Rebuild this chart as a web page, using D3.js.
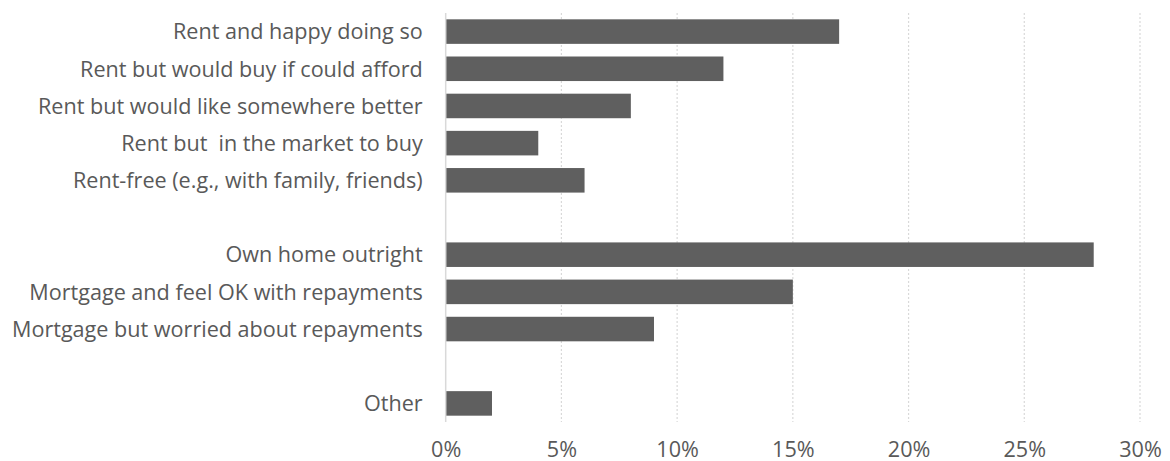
<!DOCTYPE html>
<html>
<head>
<meta charset="utf-8">
<script src="https://cdn.jsdelivr.net/npm/d3@7"></script>
<style>
  html, body { margin: 0; padding: 0; background: #ffffff; }
  svg { display: block; }
  text { font-family: "Open Sans", "Noto Sans", sans-serif; fill: #595959; white-space: pre; }
</style>
</head>
<body>
<svg id="chart" width="1170" height="461"></svg>
<script>
// Housing situation categories, top to bottom ("" marks a spacer row)
const categories = [
  "Rent and happy doing so",
  "Rent but would buy if could afford",
  "Rent but would like somewhere better",
  "Rent but  in the market to buy",
  "Rent-free (e.g., with family, friends)",
  "",
  "Own home outright",
  "Mortgage and feel OK with repayments",
  "Mortgage but worried about repayments",
  " ",
  "Other"
];
// Share of respondents (%) for each category; null for spacer rows
const shares = [17, 12, 8, 4, 6, null, 28, 15, 9, null, 2];
// Axis tick values (%)
const tickValues = [0, 5, 10, 15, 20, 25, 30];

const svg = d3.select("#chart");
const plotLeft = 445.7, plotRight = 1140, plotTop = 13, plotBottom = 422;

const x = d3.scaleLinear().domain([0, 30]).range([plotLeft, plotRight]);
const y = d3.scaleBand().domain(categories).range([plotTop, plotBottom]).paddingInner(0.34).paddingOuter(0.17);

// Dotted vertical gridlines
svg.append("g")
  .selectAll("line")
  .data(tickValues.filter(d => d > 0))
  .join("line")
  .attr("x1", d => x(d)).attr("x2", d => x(d))
  .attr("y1", plotTop).attr("y2", plotBottom)
  .attr("stroke", "#d9d9d9")
  .attr("stroke-width", 1.2)
  .attr("stroke-dasharray", "2,2");

// Bars
const rows = categories.map((c, i) => ({ c, v: shares[i] })).filter(d => d.v !== null);
svg.append("g")
  .selectAll("rect")
  .data(rows)
  .join("rect")
  .attr("x", x(0))
  .attr("y", d => y(d.c))
  .attr("width", d => x(d.v) - x(0))
  .attr("height", y.bandwidth())
  .attr("fill", "#5f5f5f");

// Category axis line
svg.append("line")
  .attr("x1", plotLeft).attr("x2", plotLeft)
  .attr("y1", plotTop).attr("y2", plotBottom)
  .attr("stroke", "#d9d9d9")
  .attr("stroke-width", 1.5);

// Category labels
const yAxis = d3.axisLeft(y).tickSize(0).tickPadding(23);
const gy = svg.append("g").attr("transform", `translate(${plotLeft},0)`).call(yAxis);
gy.select(".domain").remove();
gy.selectAll("text")
  .style("font-size", "21.6px")
  .attr("fill", "#595959")
  .attr("dy", "0.36em");

// Percentage axis labels
const xAxis = d3.axisBottom(x).tickValues(tickValues).tickSize(0).tickPadding(0)
  .tickFormat(d => d + "%");
const gx = svg.append("g").attr("transform", `translate(0,${plotBottom})`).call(xAxis);
gx.select(".domain").remove();
gx.selectAll("text")
  .style("font-size", "21.6px")
  .attr("fill", "#595959")
  .attr("y", 35)
  .attr("dy", 0);
</script>
</body>
</html>
